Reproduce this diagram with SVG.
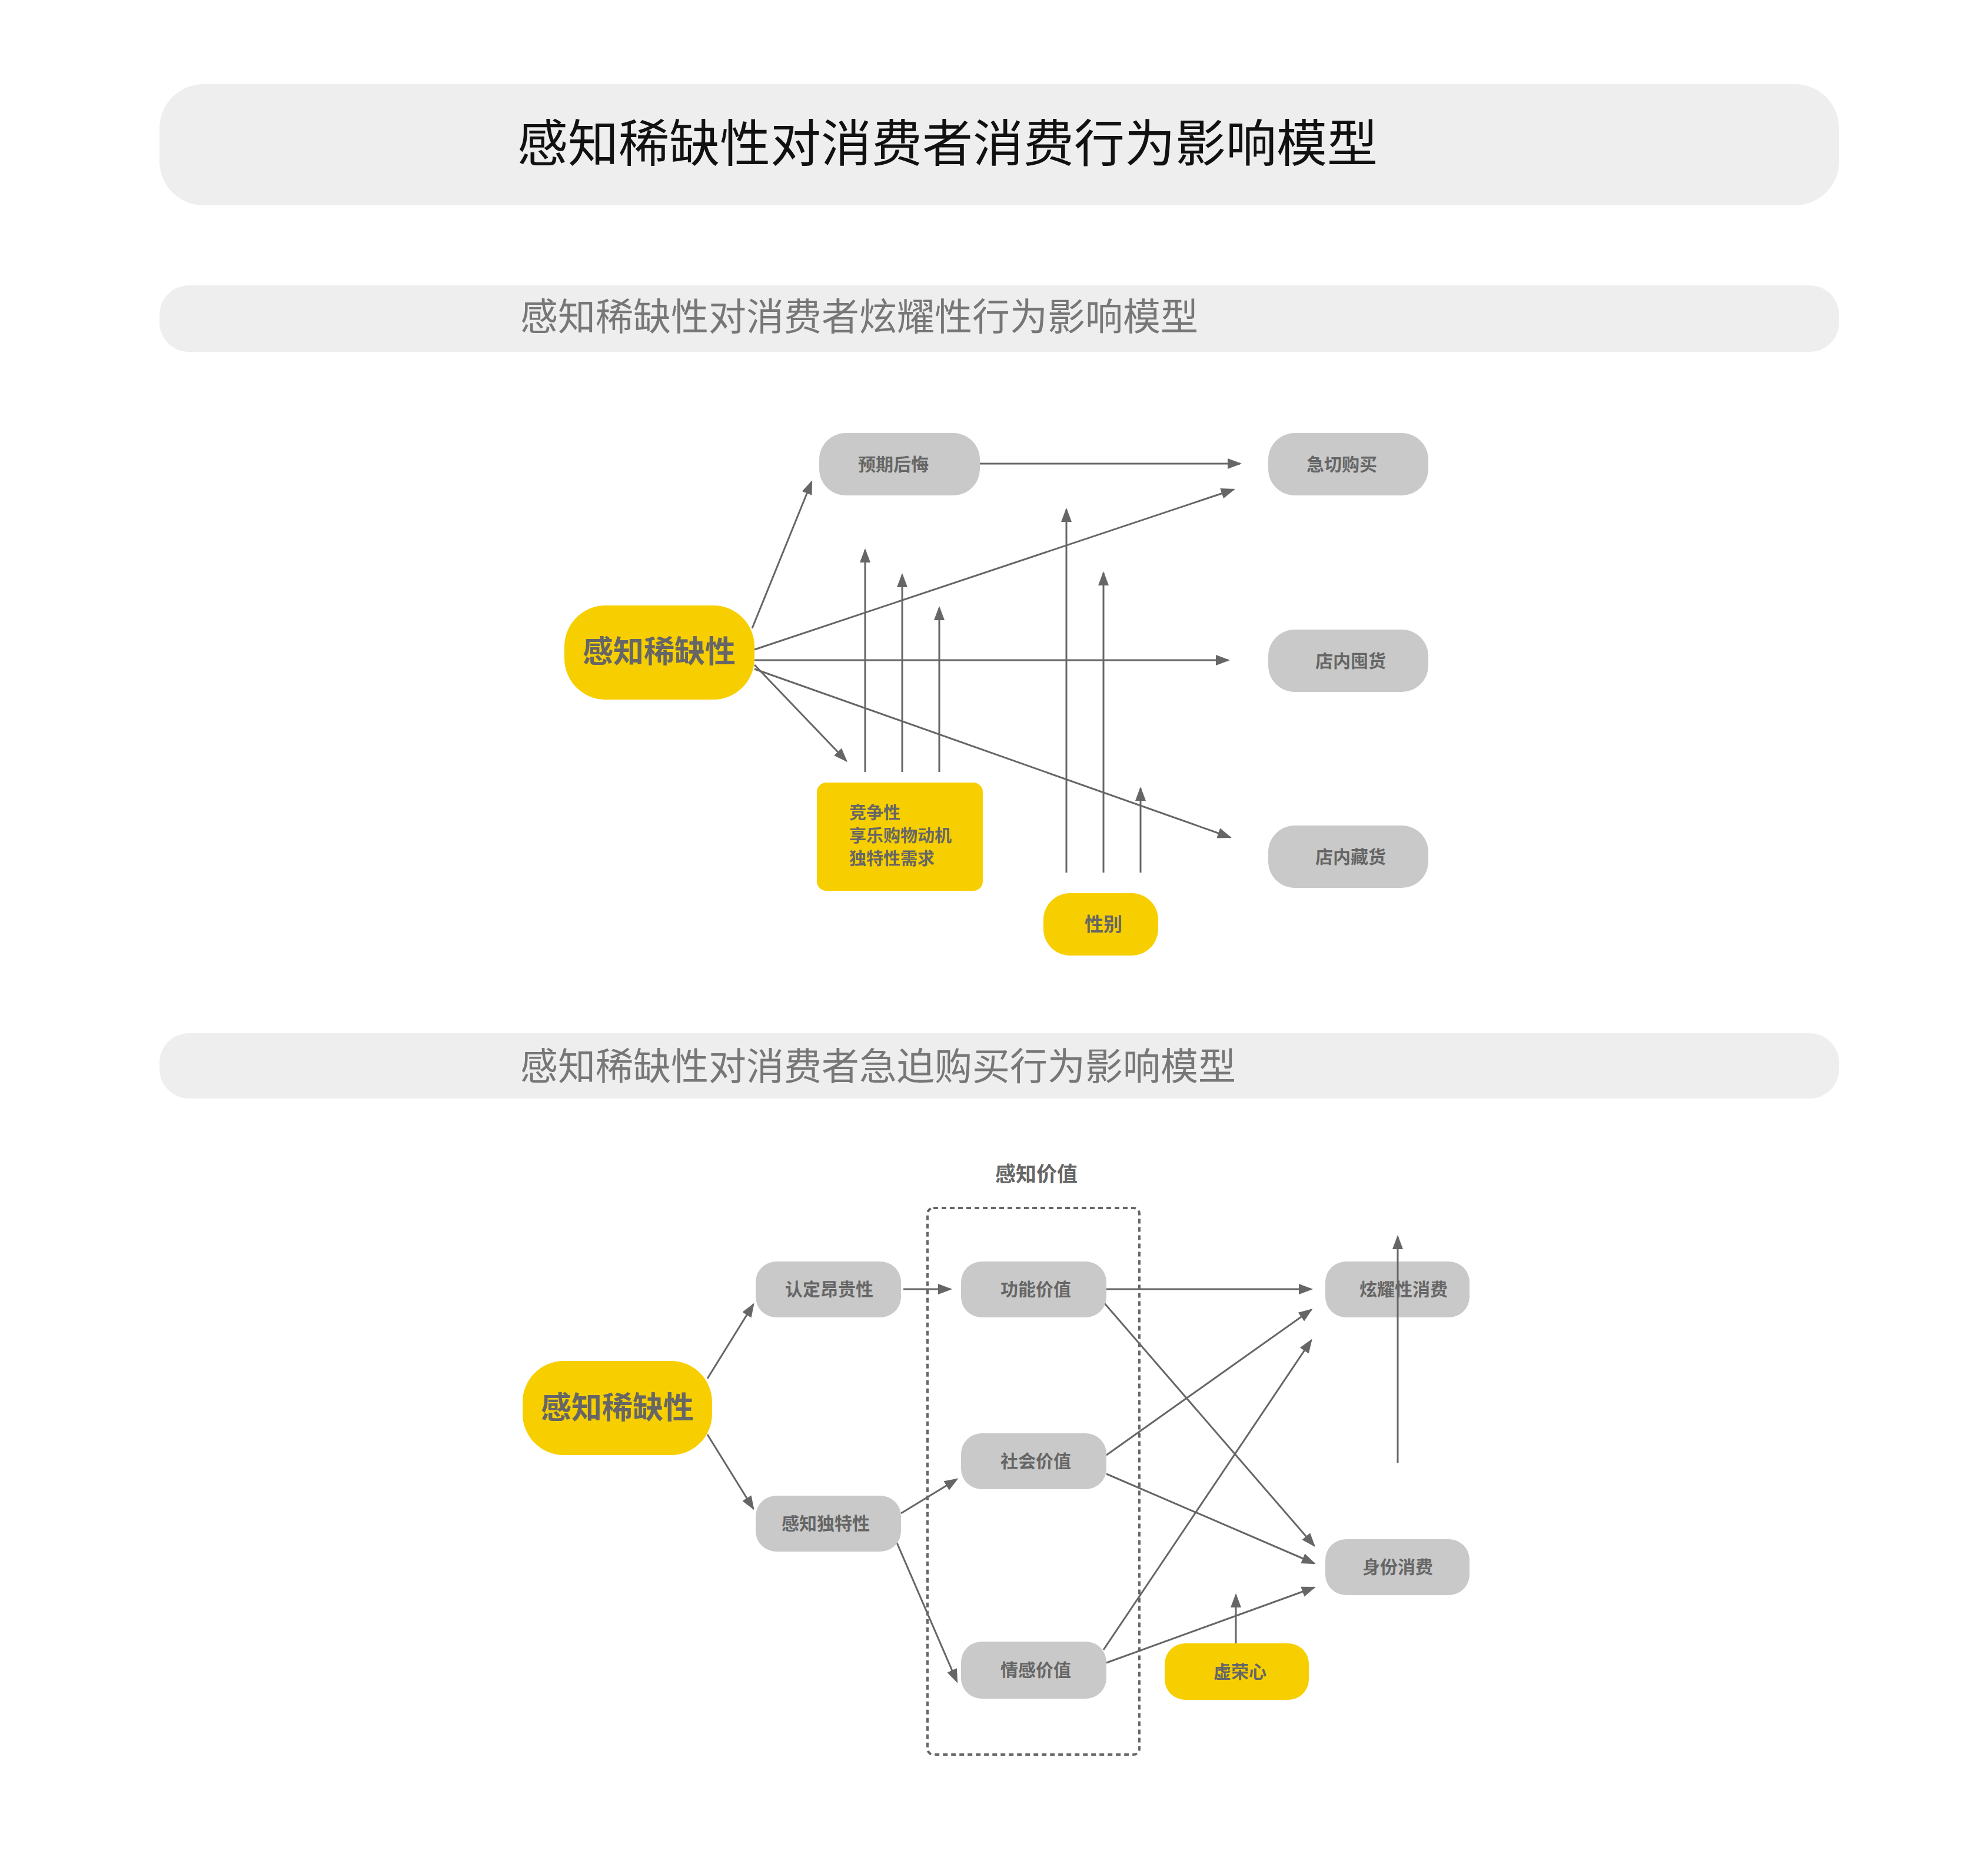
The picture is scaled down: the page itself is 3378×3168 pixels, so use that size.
<svg xmlns="http://www.w3.org/2000/svg" width="3378" height="3168" viewBox="0 0 3378 3168">
<style>
.t{font-family:"Noto Sans CJK SC","Noto Sans",sans-serif;fill:#666;text-anchor:middle;font-weight:bold}
.g{fill:#c9c9c9}.y{fill:#f7cf00}
.c line{stroke:#666;stroke-width:3;marker-end:url(#a)}
</style>
<defs><marker id="a" markerWidth="8" markerHeight="6" refX="7" refY="3" orient="auto" markerUnits="strokeWidth"><path d="M0,0L8,3L0,6Z" fill="#666"/></marker></defs>
<rect width="3378" height="3168" fill="#fff"/>
<g id="title"><rect x="271" y="143" width="2854" height="206" rx="75" fill="#eeeeef"/><text x="1610" y="275" font-size="86" text-anchor="middle" font-family="Noto Sans CJK SC,sans-serif" fill="#111">感知稀缺性对消费者消费行为影响模型</text></g>
<g id="sub1"><rect x="271" y="485" width="2854" height="113" rx="50" fill="#eeeeef"/><text x="884" y="561" font-size="64" font-family="Noto Sans CJK SC,sans-serif" fill="#777">感知稀缺性对消费者炫耀性行为影响模型</text></g>
<g id="sub2"><rect x="271" y="1756" width="2854" height="111" rx="50" fill="#eeeeef"/><text x="884" y="1835" font-size="64" font-family="Noto Sans CJK SC,sans-serif" fill="#777">感知稀缺性对消费者急迫购买行为影响模型</text></g>

<g class="c" id="connectors1">
<line x1="1278" y1="1068" x2="1379" y2="819"/>
<line x1="1665" y1="788" x2="2107" y2="788"/>
<line x1="1282" y1="1104" x2="2096" y2="832"/>
<line x1="1282" y1="1122" x2="2087" y2="1122"/>
<line x1="1282" y1="1137" x2="2090" y2="1423"/>
<line x1="1282" y1="1130" x2="1438" y2="1293"/>
<line x1="1470" y1="1312" x2="1470" y2="935"/>
<line x1="1533" y1="1312" x2="1533" y2="977"/>
<line x1="1596" y1="1312" x2="1596" y2="1033"/>
<line x1="1812" y1="1483" x2="1812" y2="866"/>
<line x1="1875" y1="1483" x2="1875" y2="974"/>
<line x1="1938" y1="1483" x2="1938" y2="1340"/>
</g>
<g id="n1"><rect class="y" x="959" y="1029" width="323" height="160" rx="70"/><text class="t" x="1120" y="1126" font-size="52">感知稀缺性</text></g>
<g id="n2"><rect class="g" x="1392" y="736" width="273" height="106" rx="45"/><text class="t" x="1518" y="800" font-size="30">预期后悔</text></g>
<g id="n3"><rect class="g" x="2155" y="736" width="272" height="106" rx="45"/><text class="t" x="2280" y="800" font-size="30">急切购买</text></g>
<g id="n4"><rect class="g" x="2155" y="1070" width="272" height="106" rx="45"/><text class="t" x="2295" y="1134" font-size="30">店内囤货</text></g>
<g id="n5"><rect class="g" x="2155" y="1403" width="272" height="106" rx="45"/><text class="t" x="2295" y="1467" font-size="30">店内藏货</text></g>
<g id="n6"><rect class="y" x="1388" y="1330" width="282" height="184" rx="16"/><text class="t" x="1443" y="1392" font-size="29" style="text-anchor:start">竞争性</text><text class="t" x="1443" y="1431" font-size="29" style="text-anchor:start">享乐购物动机</text><text class="t" x="1443" y="1470" font-size="29" style="text-anchor:start">独特性需求</text></g>
<g id="n7"><rect class="y" x="1773" y="1518" width="195" height="106" rx="45"/><text class="t" x="1875" y="1582" font-size="32">性别</text></g>

<g id="label2"><text class="t" x="1761" y="2008" font-size="35">感知价值</text><rect x="1576" y="2053" width="360" height="929" rx="10" fill="none" stroke="#666" stroke-width="4" stroke-dasharray="8,6"/></g>
<g class="c" id="connectors2">
<line x1="1202" y1="2343" x2="1280" y2="2217"/>
<line x1="1202" y1="2438" x2="1280" y2="2564"/>
<line x1="1535" y1="2191" x2="1615" y2="2191"/>
<line x1="1880" y1="2191" x2="2228" y2="2191"/>
<line x1="1875" y1="2213" x2="2233" y2="2627"/>
<line x1="1880" y1="2473" x2="2228" y2="2226"/>
<line x1="1880" y1="2505" x2="2233" y2="2657"/>
<line x1="1531" y1="2572" x2="1626" y2="2514"/>
<line x1="1524" y1="2622" x2="1626" y2="2858"/>
<line x1="1875" y1="2804" x2="2228" y2="2278"/>
<line x1="1880" y1="2826" x2="2233" y2="2698"/>
<line x1="2100" y1="2793" x2="2100" y2="2711"/>
</g>
<g id="m1"><rect class="y" x="888" y="2313" width="322" height="160" rx="70"/><text class="t" x="1049" y="2411" font-size="52">感知稀缺性</text></g>
<g id="m2"><rect class="g" x="1284" y="2144" width="247" height="95" rx="35"/><text class="t" x="1409" y="2202" font-size="30">认定昂贵性</text></g>
<g id="m3"><rect class="g" x="1284" y="2542" width="247" height="95" rx="35"/><text class="t" x="1403" y="2600" font-size="30">感知独特性</text></g>
<g id="m4"><rect class="g" x="1633" y="2144" width="247" height="95" rx="35"/><text class="t" x="1760" y="2202" font-size="30">功能价值</text></g>
<g id="m5"><rect class="g" x="1633" y="2436" width="247" height="95" rx="35"/><text class="t" x="1760" y="2494" font-size="30">社会价值</text></g>
<g id="m6"><rect class="g" x="1633" y="2790" width="247" height="97" rx="35"/><text class="t" x="1760" y="2849" font-size="30">情感价值</text></g>
<g id="m7"><rect class="g" x="2252" y="2144" width="245" height="95" rx="35"/><text class="t" x="2385" y="2202" font-size="30">炫耀性消费</text></g>
<g id="m8"><rect class="g" x="2252" y="2616" width="245" height="95" rx="35"/><text class="t" x="2375" y="2674" font-size="30">身份消费</text></g>
<g id="m9"><rect class="y" x="1979" y="2793" width="245" height="96" rx="35"/><text class="t" x="2107" y="2852" font-size="30">虚荣心</text></g>
<g class="c" id="connectors3"><line x1="2375" y1="2486" x2="2375" y2="2102"/></g>
</svg>
